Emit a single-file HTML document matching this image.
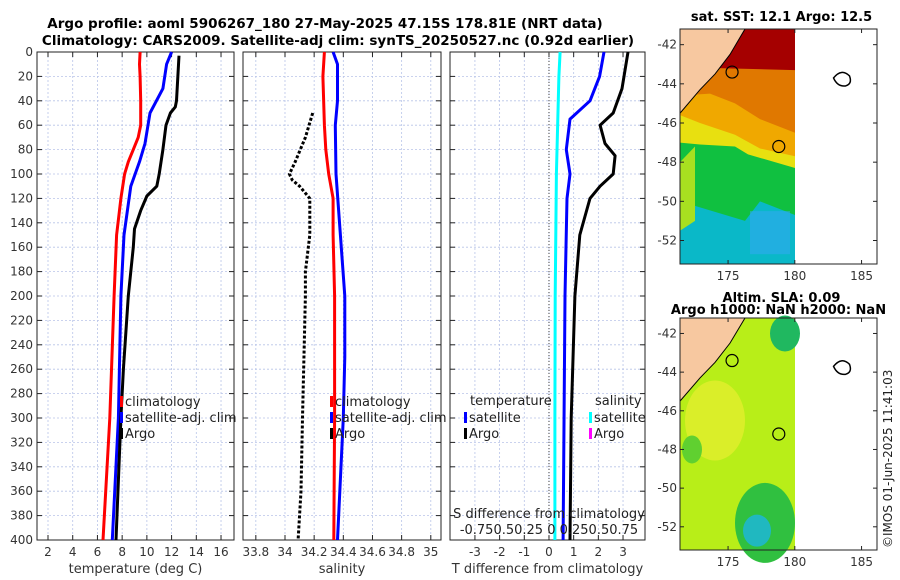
<!DOCTYPE html>
<html><head><meta charset="utf-8"><style>
body{margin:0;background:#fff;}
svg{display:block;font-family:"DejaVu Sans","Liberation Sans",sans-serif;}
</style></head><body>
<svg id="fig" width="900" height="580" xmlns="http://www.w3.org/2000/svg">
<text x="325" y="28" text-anchor="middle" font-size="13.5" font-weight="bold">Argo profile: aoml 5906267_180 27-May-2025 47.15S 178.81E (NRT data)</text>
<text x="338" y="45" text-anchor="middle" font-size="13.5" font-weight="bold">Climatology: CARS2009. Satellite-adj clim: synTS_20250527.nc (0.92d earlier)</text>
<g id="panels"></g>
<g id="maps"></g>
<text transform="translate(892,548) rotate(-90)" font-size="12" fill="#222">©IMOS 01-Jun-2025 11:41:03</text>
</svg>
<script>
// ---- data ----
const depthTicks=[0,20,40,60,80,100,120,140,160,180,200,220,240,260,280,300,320,340,360,380,400];
const tempTicks=[2,4,6,8,10,12,14,16];
const salTicks=[33.8,34,34.2,34.4,34.6,34.8,35];
const salTickLabels=["33.8","34","34.2","34.4","34.6","34.8","35"];
const diffTicks=[-3,-2,-1,0,1,2,3];
const tClimDepth=[0,10,20,40,60,70,80,90,100,120,150,200,300,400];
const tClimVal=[9.45,9.4,9.45,9.5,9.5,9.3,8.9,8.5,8.2,7.9,7.55,7.35,7.0,6.45];
const tSatDepth=[0,10,30,50,75,90,110,150,200,300,400];
const tSatVal=[12.0,11.6,11.3,10.25,9.85,9.4,8.7,8.15,7.9,7.7,7.2];
const tArgoDepth=[3,40,45,50,60,80,100,110,118,130,145,160,200,260,300,400];
const tArgoVal=[12.6,12.4,12.3,11.9,11.55,11.3,11.0,10.8,10.0,9.5,9.0,8.9,8.5,8.1,7.9,7.5];
const sClimDepth=[0,20,60,80,100,120,150,200,300,400];
const sClimVal=[34.27,34.26,34.27,34.28,34.3,34.33,34.33,34.34,34.34,34.335];
const sSatDepth=[0,10,40,60,100,150,200,250,300,400];
const sSatVal=[34.33,34.36,34.36,34.345,34.35,34.38,34.41,34.41,34.4,34.36];
const sArgoDepth=[50,70,90,100,105,110,120,150,180,200,300,360,400];
const sArgoVal=[34.19,34.14,34.07,34.03,34.05,34.1,34.17,34.17,34.14,34.14,34.12,34.11,34.09];
const dSsatDepth=[0,20,100,200,300,400];
const dSsatVal=[0.45,0.4,0.3,0.25,0.24,0.24];
const dTsatDepth=[0,20,40,55,80,100,120,200,400];
const dTsatVal=[2.23,2.05,1.66,0.85,0.7,0.85,0.73,0.65,0.57];
const dTargoDepth=[0,30,50,60,75,85,100,110,120,150,200,300,400];
const dTargoVal=[3.2,2.96,2.6,2.07,2.27,2.68,2.6,2.07,1.66,1.25,1.05,0.9,0.85];

const NS="http://www.w3.org/2000/svg";
function mk(tag,attrs,parent){const e=document.createElementNS(NS,tag);for(const k in attrs)e.setAttribute(k,attrs[k]);parent.appendChild(e);return e;}
const pTop=52,pBot=540;
const yD=d=>pTop+(d/400)*(pBot-pTop);
const panels=document.getElementById('panels');

function panel(name,x0,x1,vmin,vmax,vgrid,xt,xtLabels,xlabel,showY){
  const g=mk('g',{},panels);
  
  
  const xS=v=>x0+(v-vmin)/(vmax-vmin)*(x1-x0);
  vgrid.forEach(v=>{const l=mk('line',{x1:xS(v),x2:xS(v),y1:pTop,y2:pBot,stroke:'#b8c4e8','stroke-width':0.8,'stroke-dasharray':'2,2'},g);
    
    });
  depthTicks.forEach(d=>{const l=mk('line',{x1:x0,x2:x1,y1:yD(d),y2:yD(d),stroke:'#b8c4e8','stroke-width':0.8,'stroke-dasharray':'2,2'},g);
    
    
    mk('line',{x1:x0,x2:x0+5,y1:yD(d),y2:yD(d),stroke:'#222'},g);
    mk('line',{x1:x1,x2:x1-5,y1:yD(d),y2:yD(d),stroke:'#222'},g);
    if(showY){const t=mk('text',{x:x0-4,y:yD(d)+4,'text-anchor':'end','font-size':12,fill:'#333'},g);t.textContent=d;
      
      }
  });
  xt.forEach((v,i)=>{mk('line',{x1:xS(v),x2:xS(v),y1:pBot,y2:pBot-5,stroke:'#222'},g);mk('line',{x1:xS(v),x2:xS(v),y1:pTop,y2:pTop+5,stroke:'#222'},g);
    const t=mk('text',{x:xS(v),y:pBot+16,'text-anchor':'middle','font-size':12,fill:'#333'},g);t.textContent=xtLabels[i];
    
    });
  const r=mk('rect',{x:x0,y:pTop,width:x1-x0,height:pBot-pTop,fill:'none',stroke:'#222','stroke-width':1},g);
  
  
  const t=mk('text',{x:(x0+x1)/2,y:pBot+33,'text-anchor':'middle','font-size':13,fill:'#333'},g);t.textContent=xlabel;
  
  
  return {g,xS};
}
function line(p,depths,vals,color,name,dash){
  const pts=depths.map((d,i)=>p.xS(vals[i]).toFixed(1)+','+yD(d).toFixed(1)).join(' ');
  const a={points:pts,fill:'none',stroke:color,'stroke-width':3,'stroke-linejoin':'round'};
  if(dash)a['stroke-dasharray']=dash;
  const l=mk('polyline',a,p.g);
  
  
}
function legend(p,x,y,color,label,name){
  const g=mk('g',{},p.g);
  
  
  mk('rect',{x:x,y:y-10,width:3,height:11,fill:color},g);
  const t=mk('text',{x:x+5,y:y,'font-size':13,fill:'#222'},g);t.textContent=label;
}
const p1=panel('temperature-panel',37,234,1.11,17.05,[2,4,6,8,10,12,14,16],tempTicks,tempTicks.map(String),'temperature (deg C)',true);
line(p1,tClimDepth,tClimVal,'#f00','temp-climatology-line');
line(p1,tSatDepth,tSatVal,'#00f','temp-satellite-line');
line(p1,tArgoDepth,tArgoVal,'#000','temp-argo-line');
legend(p1,120,406,'#f00','climatology','legend-climatology');
legend(p1,120,422,'#00f','satellite-adj. clim','legend-satellite-adj');
legend(p1,120,438,'#000','Argo','legend-argo');
const p2=panel('salinity-panel',243,441,33.712,35.07,[33.8,34,34.2,34.4,34.6,34.8,35],salTicks,salTickLabels,'salinity',false);
line(p2,sClimDepth,sClimVal,'#f00','sal-climatology-line');
line(p2,sSatDepth,sSatVal,'#00f','sal-satellite-line');
line(p2,sArgoDepth,sArgoVal,'#000','sal-argo-line','3,2');
legend(p2,330,406,'#f00','climatology','legend-sal-climatology');
legend(p2,330,422,'#00f','satellite-adj. clim','legend-sal-satellite-adj');
legend(p2,330,438,'#000','Argo','legend-sal-argo');
const p3=panel('difference-panel',450,645,-4.01,3.89,[-3,-2,-1,0,1,2,3],diffTicks,diffTicks.map(String),'T difference from climatology',false);
mk('line',{x1:p3.xS(0),x2:p3.xS(0),y1:pTop,y2:pBot,stroke:'#444','stroke-width':1,'stroke-dasharray':'1,2'},p3.g);
line(p3,dSsatDepth,dSsatVal,'#0ff','sal-diff-satellite-line');
line(p3,dTsatDepth,dTsatVal,'#00f','temp-diff-satellite-line');
line(p3,dTargoDepth,dTargoVal,'#000','temp-diff-argo-line');
{const t=mk('text',{x:470,y:405,'font-size':13,fill:'#222'},p3.g);t.textContent='temperature';
 
 
 const t2=mk('text',{x:595,y:405,'font-size':13,fill:'#222'},p3.g);t2.textContent='salinity';
 
 }
legend(p3,464,422,'#00f','satellite','legend-temp-satellite');
legend(p3,464,438,'#000','Argo','legend-temp-argo');
legend(p3,589,422,'#0ff','satellite','legend-sal-diff-satellite');
legend(p3,589,438,'#f0f','Argo','legend-sal-diff-argo');
{const t=mk('text',{x:549,y:518,'text-anchor':'middle','font-size':13,fill:'#222'},p3.g);t.textContent='S difference from climatology';
 
 
 const t2=mk('text',{x:549,y:534,'text-anchor':'middle','font-size':13,fill:'#222'},p3.g);t2.textContent='-0.750.50.25 0  0.250.50.75';
 
 }

const maps=document.getElementById('maps');
function map(name,y0,y1,title,title2,type){
  const g=mk('g',{},maps);
  
  
  const x0=680,x1=877,xd=795;
  const lonX=l=>x0+(l-171.4)*13.35;
  const latY=a=>y0+(-41.2-a)*(y1-y0)/12.0;
  if(type==='sst'){
    mk('rect',{x:x0,y:y0,width:xd-x0,height:y1-y0,fill:'#0ab8c8'},g);
    mk('polygon',{points:`${x0},${y0} ${xd},${y0} ${xd},${latY(-50.7)} ${760},${latY(-50)} ${745},${latY(-51)} ${x0},${latY(-50)}`,fill:'#10c040'},g);
    mk('polygon',{points:`${x0},${y0} ${xd},${y0} ${xd},${latY(-48.3)} ${748},${latY(-47.6)} ${735},${latY(-47.2)} ${700},${latY(-47.1)} ${x0},${latY(-47)}`,fill:'#e8e010'},g);
    mk('polygon',{points:`${x0},${latY(-48)} ${695},${latY(-47.2)} ${695},${latY(-51)} ${x0},${latY(-51.5)}`,fill:'#a8e020'},g);
    mk('polygon',{points:`${x0},${y0} ${xd},${y0} ${xd},${latY(-47.7)} ${760},${latY(-47.3)} ${735},${latY(-46.6)} ${700},${latY(-46)} ${x0},${latY(-45.6)}`,fill:'#f0a800'},g);
    mk('polygon',{points:`${x0},${y0} ${xd},${y0} ${xd},${latY(-46.5)} ${760},${latY(-45.8)} ${735},${latY(-45)} ${710},${latY(-44.5)} ${x0},${latY(-44.6)}`,fill:'#e07800'},g);
    mk('polygon',{points:`${718},${y0} ${xd},${y0} ${xd},${latY(-43.3)} ${718},${latY(-43.2)}`,fill:'#a50000'},g);
    mk('rect',{x:750,y:latY(-50.5),width:40,height:latY(-52.7)-latY(-50.5),fill:'#30a8f0',opacity:0.6},g);
  } else {
    mk('rect',{x:x0,y:y0,width:xd-x0,height:y1-y0,fill:'#b8ee18'},g);
    mk('ellipse',{cx:715,cy:latY(-46.5),rx:30,ry:40,fill:'#e8ee30',opacity:0.7},g);
    mk('ellipse',{cx:785,cy:latY(-42),rx:15,ry:18,fill:'#20b860'},g);
    mk('ellipse',{cx:765,cy:latY(-51.8),rx:30,ry:40,fill:'#30c040'},g);
    mk('ellipse',{cx:757,cy:latY(-52.2),rx:14,ry:16,fill:'#20b8c0'},g);
    mk('ellipse',{cx:692,cy:latY(-48),rx:10,ry:14,fill:'#60d030'},g);
  }
  mk('polygon',{points:`${x0},${y0} ${745},${y0} ${730},${latY(-42.5)} ${715},${latY(-43.5)} ${700},${latY(-44.3)} ${x0},${latY(-45.5)}`,fill:'#f7c8a0',stroke:'#000','stroke-width':1},g);
  mk('circle',{cx:lonX(175.3),cy:latY(-43.4),r:6,fill:'none',stroke:'#000','stroke-width':1.2},g);
  mk('circle',{cx:lonX(178.8),cy:latY(-47.2),r:6,fill:'none',stroke:'#000','stroke-width':1.2},g);
  mk('path',{d:`M${lonX(182.9)},${latY(-43.7)} q8,-10 16,-2 q3,8 -4,10 q-8,1 -12,-8 z`,fill:'none',stroke:'#000','stroke-width':1.5},g);
  mk('rect',{x:x0,y:y0,width:x1-x0,height:y1-y0,fill:'none',stroke:'#222'},g);
  [-42,-44,-46,-48,-50,-52].forEach(a=>{mk('line',{x1:x0,x2:x0+4,y1:latY(a),y2:latY(a),stroke:'#222'},g);mk('line',{x1:x1,x2:x1-4,y1:latY(a),y2:latY(a),stroke:'#222'},g);
    const t=mk('text',{x:x0-3,y:latY(a)+4,'text-anchor':'end','font-size':12,fill:'#333'},g);t.textContent=a;
    
    });
  [175,180,185].forEach(l=>{mk('line',{x1:lonX(l),x2:lonX(l),y1:y1,y2:y1-4,stroke:'#222'},g);mk('line',{x1:lonX(l),x2:lonX(l),y1:y0,y2:y0+4,stroke:'#222'},g);
    const t=mk('text',{x:lonX(l),y:y1+16,'text-anchor':'middle','font-size':12,fill:'#333'},g);t.textContent=l;
    
    });
  const t=mk('text',{x:x0+(x1-x0)/2+3,y:title2?y0-16:y0-8,'text-anchor':'middle','font-size':13,'font-weight':'bold'},g);t.textContent=title;
  
  
  if(title2){const t2=mk('text',{x:x0+(x1-x0)/2,y:y0-4,'text-anchor':'middle','font-size':13,'font-weight':'bold'},g);t2.textContent=title2;
    
    }
}
map('sst-map',29,264,'sat. SST: 12.1 Argo: 12.5',null,'sst');
map('sla-map',318,550,'Altim. SLA: 0.09','Argo h1000: NaN h2000: NaN','sla');
</script>
</body></html>
